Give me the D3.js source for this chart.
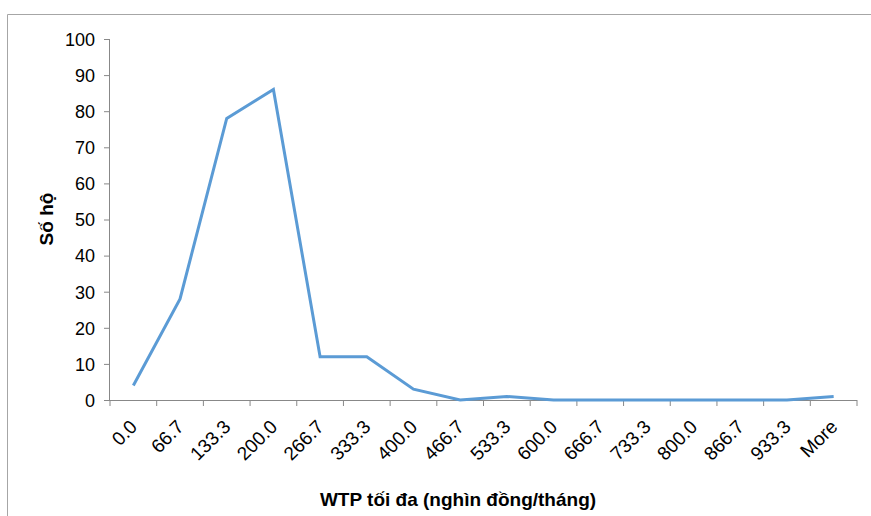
<!DOCTYPE html>
<html><head><meta charset="utf-8">
<script src="https://cdn.jsdelivr.net/npm/d3@7"></script>
<style>body{margin:0;background:#fff}svg{display:block}text{font-family:"Liberation Sans",Arial,sans-serif}</style>
</head><body>
<svg id="c" width="871" height="516"></svg>
<script>
const categories = ["0.0","66.7","133.3","200.0","266.7","333.3","400.0","466.7","533.3","600.0","666.7","733.3","800.0","866.7","933.3","More"];
const values = [4,28,78,86,12,12,3,0,1,0,0,0,0,0,0,1];
const yTicks = [0,10,20,30,40,50,60,70,80,90,100];
const xTitle = "WTP tối đa (nghìn đồng/tháng)";
const yTitle = "Số hộ";

const svg = d3.select("#c");
const L = 110, R = 857, T = 39, B = 400;

svg.append("path").attr("d","M7.5,516 V14.5 H871").attr("fill","none").attr("stroke","#a6a6a6").attr("stroke-width",1);

const x = d3.scaleBand().domain(categories).range([L,R]).padding(0);
const y = d3.scaleLinear().domain([0,100]).range([B,T]);

const yAxis = svg.append("g").attr("transform",`translate(${L},0)`)
  .call(d3.axisLeft(y).tickValues(yTicks).tickSize(6).tickPadding(6).tickFormat(d3.format("d")));
yAxis.attr("font-size",null).attr("font-family",null);
yAxis.select(".domain").attr("stroke","#888").attr("d",`M-0.5,${T}V${B}`);
yAxis.selectAll(".tick line").attr("stroke","#888");
yAxis.selectAll(".tick text").attr("font-size","18px").attr("fill","#000").attr("dx","-3").attr("dy","0.35em");

const xAxis = svg.append("g").attr("transform",`translate(0,${B})`)
  .call(d3.axisBottom(x).tickSize(0).tickFormat(d=>d));
xAxis.attr("font-size",null).attr("font-family",null);
xAxis.select(".domain").attr("stroke","#888").attr("d",`M${L},0.5H${R}`);
const bounds = categories.map(c=>x(c)).concat([R]);
xAxis.selectAll(".bt").data(bounds).enter().append("line").attr("class","bt")
  .attr("x1",d=>d).attr("x2",d=>d).attr("y1",0).attr("y2",6).attr("stroke","#888");
xAxis.selectAll(".tick text").attr("font-size","19px").attr("fill","#000")
  .attr("text-anchor","end").attr("dy",null).attr("y",0)
  .attr("transform","translate(5,28) rotate(-45)");

const line = d3.line().x((d,i)=>x(categories[i])+x.bandwidth()/2).y(d=>y(d));
svg.append("path").datum(values).attr("d",line).attr("fill","none")
  .attr("stroke","#5b9bd5").attr("stroke-width",3).attr("stroke-linejoin","miter");

svg.append("text").attr("x",458).attr("y",506).attr("text-anchor","middle")
  .attr("font-size","19px").attr("font-weight","bold").text(xTitle);
svg.append("text").attr("transform","translate(53,219) rotate(-90)").attr("text-anchor","middle")
  .attr("font-size","19px").attr("font-weight","bold").text(yTitle);
</script>
</body></html>
